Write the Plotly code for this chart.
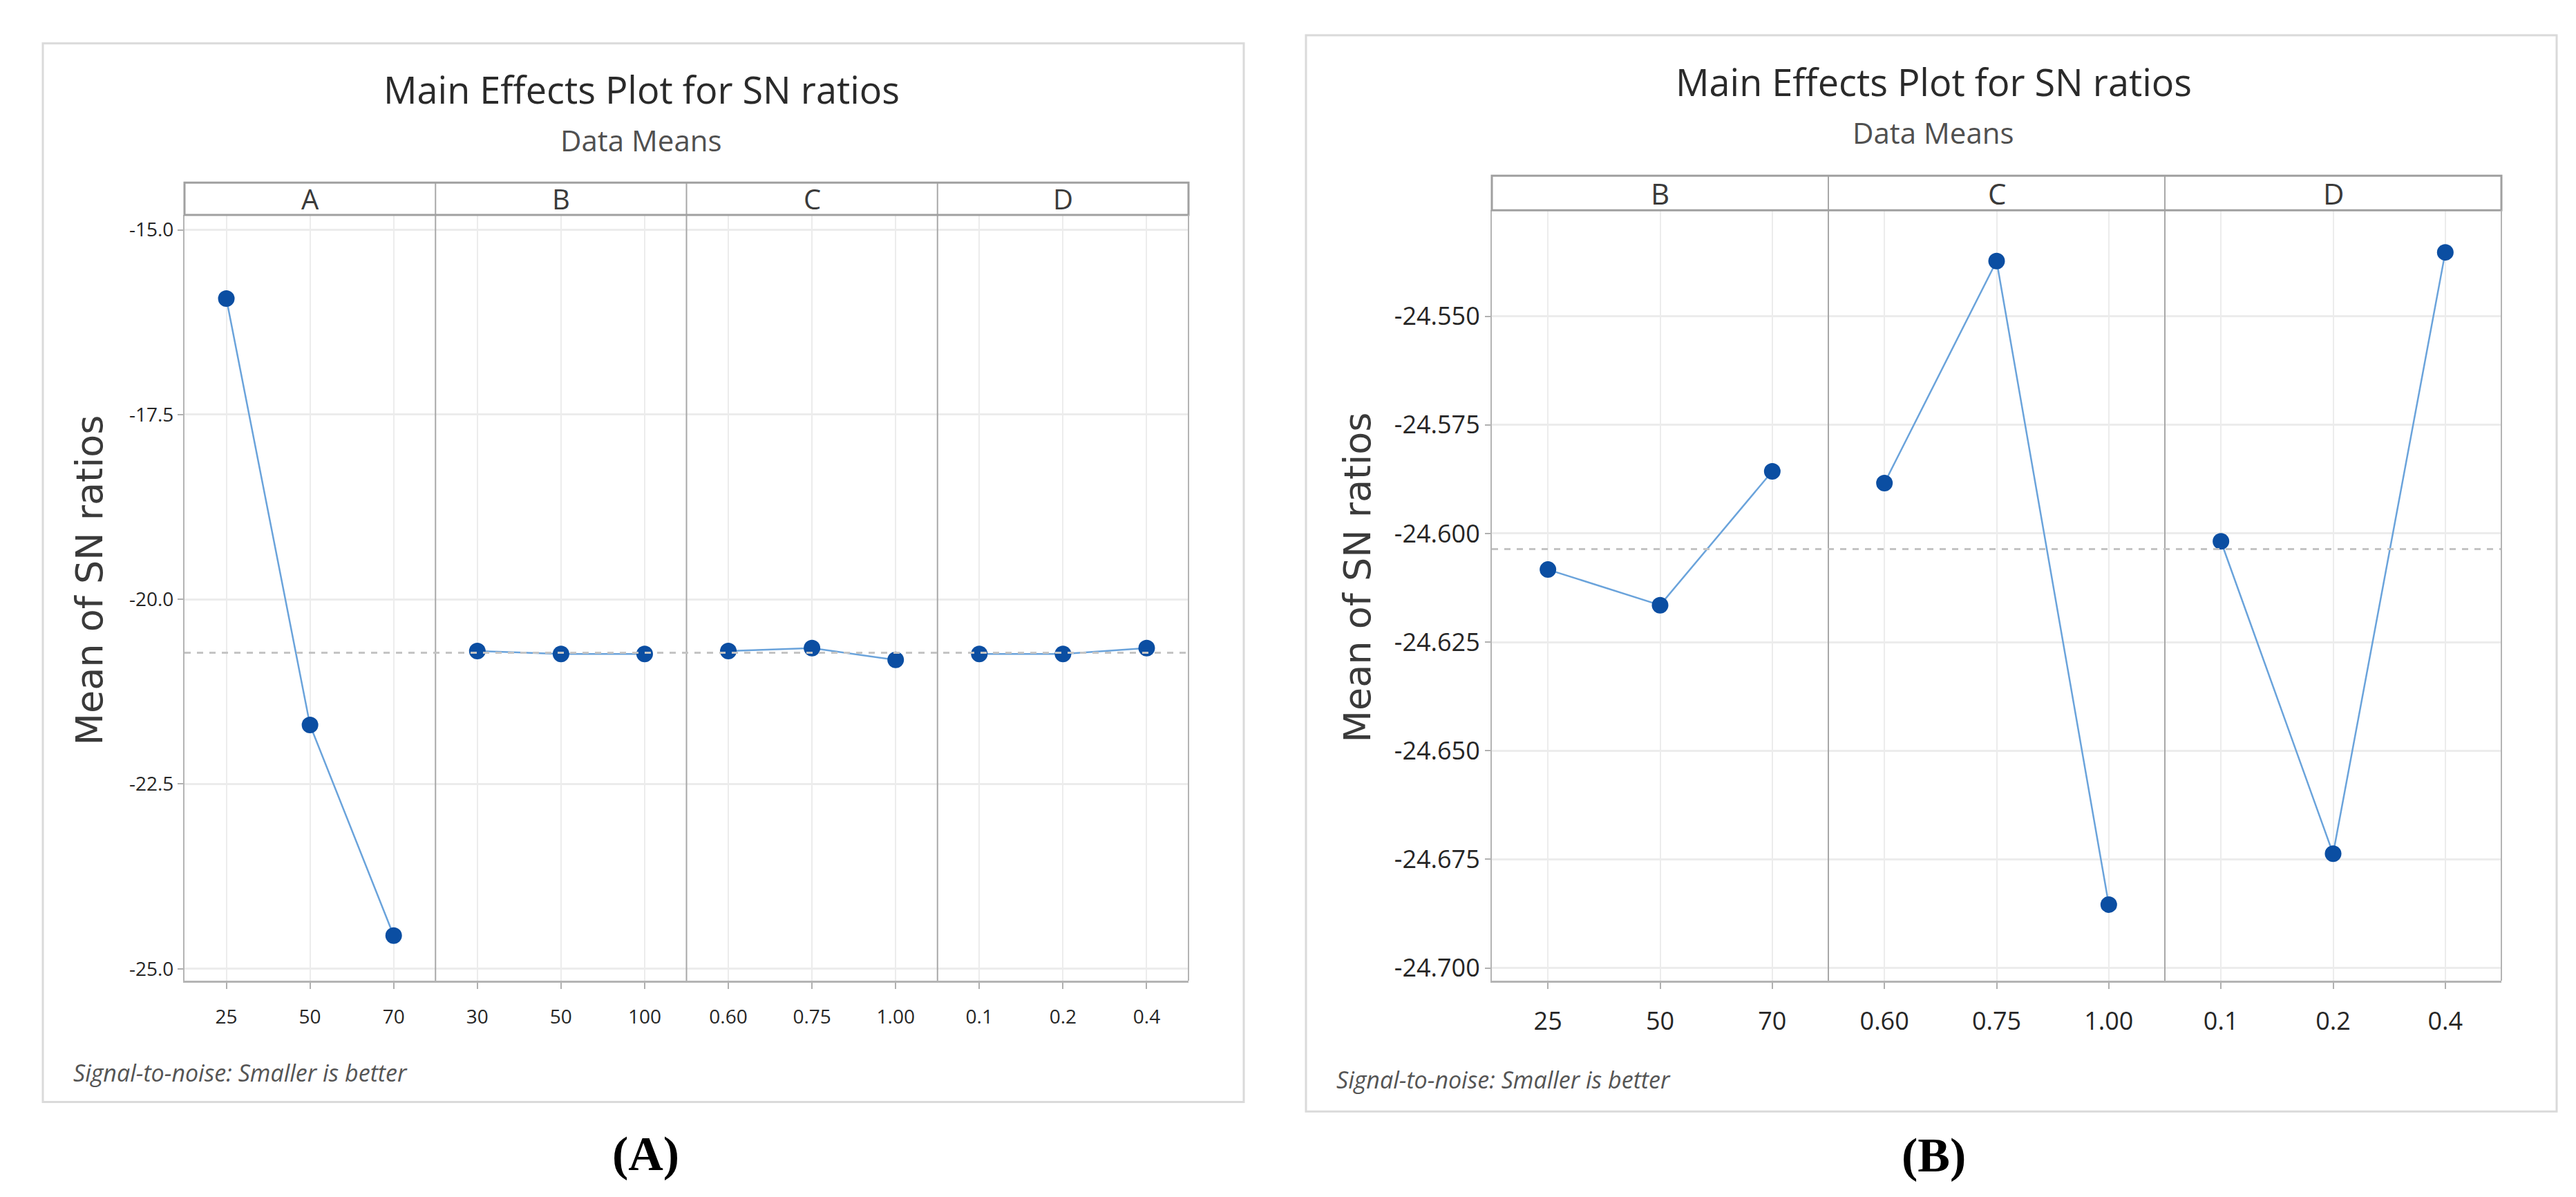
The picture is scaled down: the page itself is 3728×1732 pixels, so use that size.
import numpy as np
import plotly.graph_objects as go

W, H = 3728, 1732

# ---------------- data ----------------
factors_A = ["A", "B", "C", "D"]
levels_A = [["25", "50", "70"], ["30", "50", "100"], ["0.60", "0.75", "1.00"], ["0.1", "0.2", "0.4"]]
sn_A = [[-15.93, -21.70, -24.55],
        [-20.70, -20.74, -20.74],
        [-20.70, -20.66, -20.82],
        [-20.74, -20.74, -20.66]]
ytick_vals_A = [-25.0, -22.5, -20.0, -17.5, -15.0]
ytick_text_A = ["-25.0", "-22.5", "-20.0", "-17.5", "-15.0"]

factors_B = ["B", "C", "D"]
levels_B = [["25", "50", "70"], ["0.60", "0.75", "1.00"], ["0.1", "0.2", "0.4"]]
sn_B = [[-24.6083, -24.6165, -24.5857],
        [-24.5884, -24.5373, -24.6854],
        [-24.6018, -24.6737, -24.5353]]
ytick_vals_B = [-24.700, -24.675, -24.650, -24.625, -24.600, -24.575, -24.550]
ytick_text_B = ["-24.700", "-24.675", "-24.650", "-24.625", "-24.600", "-24.575", "-24.550"]

title_text = "Main Effects Plot for SN ratios"
subtitle_text = "Data Means"
ylabel_text = "Mean of SN ratios"
foot_text = "Signal-to-noise: Smaller is better"

# ---------------- styling ----------------
NARROW = "Open Sans, sans-serif"
MARK = "#0b4ea2"
LINE = "#6aa3db"
GRID = "#ececec"
DIV = "#a8a8a8"


def fx(x):
    return x / W


def fy(y):
    return 1 - y / H


fig = go.Figure()
layout = dict(width=W, height=H, margin=dict(l=0, r=0, t=0, b=0),
              paper_bgcolor="white", plot_bgcolor="white", showlegend=False)
shapes = []
annotations = []


def build_panel(factors, levels, values, left, right, top_strip, strip_bot, bottom,
                yref_name, yrange, tvals, ttext, tick_size, ax_offset, title_c, sub_c,
                ytitle_c, foot_pos, label, label_c, box, strip_size):
    n = len(factors)
    pw = (right - left) / n
    yname = "yaxis" if yref_name == "y" else "yaxis" + yref_name[1:]
    first_x = None
    for i in range(n):
        xi = ax_offset + i
        xname = "xaxis" if xi == 1 else "xaxis%d" % xi
        xref = "x" if xi == 1 else "x%d" % xi
        if first_x is None:
            first_x = xref
        layout[xname] = dict(
            domain=[fx(left + i * pw), fx(left + (i + 1) * pw)], anchor=yref_name,
            type="category", range=[-0.5, 2.5], showgrid=True, gridcolor=GRID, gridwidth=2,
            showline=True, linecolor="#b4b4b4", linewidth=3,
            ticks="outside", ticklen=9, tickwidth=2, tickcolor="#b0b0b0",
            ticklabelstandoff=16,
            tickfont=dict(family=NARROW, size=tick_size, color="#262626"),
            fixedrange=True)
        fig.add_trace(go.Scatter(
            x=levels[i], y=values[i], xaxis=xref, yaxis=yref_name,
            mode="lines+markers", line=dict(color=LINE, width=2.5),
            marker=dict(color=MARK, size=24, symbol="circle"), hoverinfo="skip"))
        annotations.append(dict(xref="paper", yref="paper", x=fx(left + (i + 0.5) * pw),
                                y=fy((top_strip + strip_bot) / 2), text=factors[i], showarrow=False,
                                xanchor="center", yanchor="middle",
                                font=dict(family=NARROW, size=strip_size, color="#3a3a3a")))
        if i > 0:
            xd = left + i * pw
            shapes.append(dict(type="line", xref="paper", yref="paper", x0=fx(xd), x1=fx(xd),
                               y0=fy(top_strip), y1=fy(bottom), line=dict(color=DIV, width=2)))
    layout[yname] = dict(
        domain=[fy(bottom), fy(strip_bot)], anchor=first_x, range=yrange,
        tickvals=tvals, ticktext=ttext, showgrid=True, gridcolor=GRID, gridwidth=3,
        zeroline=False, showline=True, linecolor="#b4b4b4", linewidth=2,
        ticks="outside", ticklen=8, tickwidth=2, tickcolor="#b0b0b0",
        tickfont=dict(family=NARROW, size=tick_size, color="#262626"), fixedrange=True)
    # grand mean reference line (computed from data)
    gm = float(np.mean(np.array(values)))
    shapes.append(dict(type="line", xref="paper", yref=yref_name, x0=fx(left), x1=fx(right),
                       y0=gm, y1=gm, line=dict(color="#c4c4c4", width=3, dash="dash")))
    shapes.append(dict(type="rect", xref="paper", yref="paper", x0=fx(left), x1=fx(right),
                       y0=fy(strip_bot), y1=fy(top_strip), line=dict(color="#a0a0a0", width=3)))
    shapes.append(dict(type="line", xref="paper", yref="paper", x0=fx(right), x1=fx(right),
                       y0=fy(strip_bot), y1=fy(bottom), line=dict(color="#b4b4b4", width=2)))
    shapes.append(dict(type="rect", xref="paper", yref="paper", x0=fx(box[0]), x1=fx(box[2]),
                       y0=fy(box[3]), y1=fy(box[1]), line=dict(color="#dadada", width=3), layer="below"))
    annotations.append(dict(xref="paper", yref="paper", x=fx(title_c[0]), y=fy(title_c[1]),
                            text=title_text, showarrow=False, xanchor="center", yanchor="middle",
                            font=dict(family=NARROW, size=54, color="#2a2a2a")))
    annotations.append(dict(xref="paper", yref="paper", x=fx(sub_c[0]), y=fy(sub_c[1]),
                            text=subtitle_text, showarrow=False, xanchor="center", yanchor="middle",
                            font=dict(family=NARROW, size=42, color="#505050")))
    annotations.append(dict(xref="paper", yref="paper", x=fx(ytitle_c[0]), y=fy(ytitle_c[1]),
                            text=ylabel_text, showarrow=False, xanchor="center", yanchor="middle",
                            textangle=-90,
                            font=dict(family="DejaVu Sans", size=54, color="#3a3a3a")))
    annotations.append(dict(xref="paper", yref="paper", x=fx(foot_pos[0]), y=fy(foot_pos[1]),
                            text="<i>" + foot_text + "</i>", showarrow=False, xanchor="left",
                            yanchor="middle",
                            font=dict(family=NARROW, size=34, color="#555555")))
    annotations.append(dict(xref="paper", yref="paper", x=fx(label_c[0]), y=fy(label_c[1]),
                            text="<b>" + label + "</b>", showarrow=False, xanchor="center",
                            yanchor="middle",
                            font=dict(family="Liberation Serif", size=70, color="#000000")))


build_panel(factors_A, levels_A, sn_A, 259, 1712, 257, 304, 1415, "y",
            [-25.16, -14.80], ytick_vals_A, ytick_text_A, 28, 1,
            (920, 121), (920, 195), (122, 834), (96, 1548), "(A)", (926, 1666),
            (54, 55, 1792, 1591), 40)

build_panel(factors_B, levels_B, sn_B, 2151, 3612, 247, 297, 1415, "y2",
            [-24.7029, -24.5256], ytick_vals_B, ytick_text_B, 36, 5,
            (2790, 110), (2790, 184), (1957, 830), (1924, 1558), "(B)", (2790, 1668),
            (1882, 43, 3692, 1605), 42)

layout["shapes"] = shapes
layout["annotations"] = annotations
fig.update_layout(**layout)
fig.write_html("out.html")
